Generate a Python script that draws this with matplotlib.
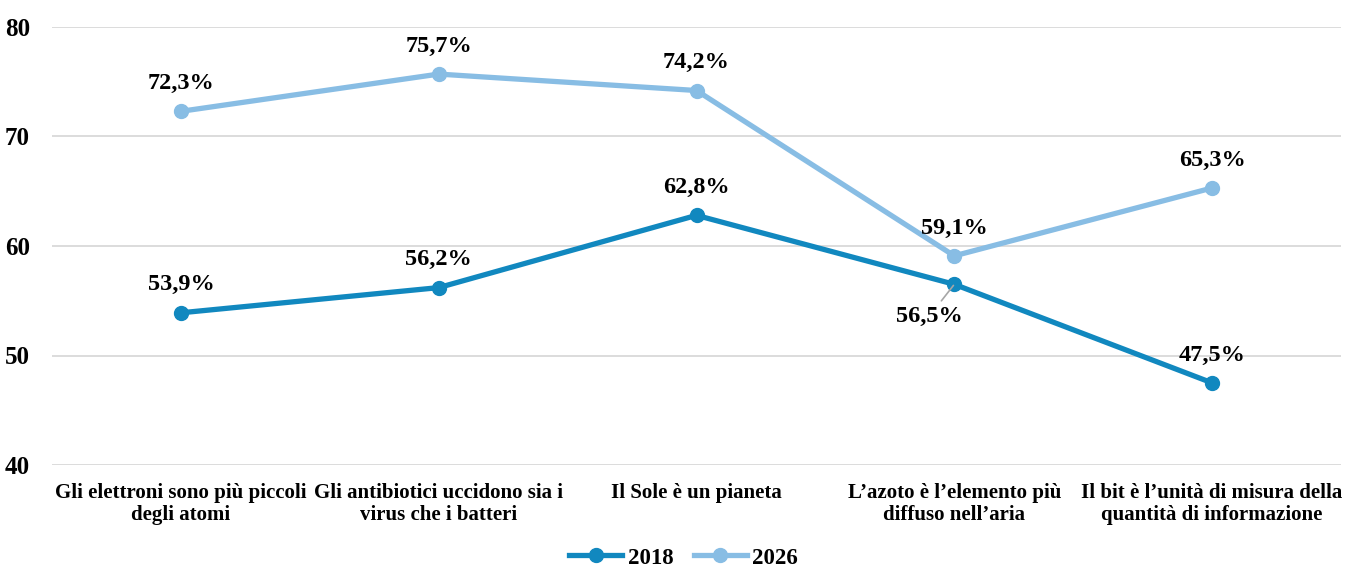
import matplotlib
matplotlib.use("Agg")
import matplotlib.pyplot as plt

categories = [
    "Gli elettroni sono più piccoli\ndegli atomi",
    "Gli antibiotici uccidono sia i\nvirus che i batteri",
    "Il Sole è un pianeta",
    "L’azoto è l’elemento più\ndiffuso nell’aria",
    "Il bit è l’unità di misura della\nquantità di informazione",
]
series_2018 = [53.9, 56.2, 62.8, 56.5, 47.5]
series_2026 = [72.3, 75.7, 74.2, 59.1, 65.3]
labels_2018 = ["53,9%", "56,2%", "62,8%", "56,5%", "47,5%"]
labels_2026 = ["72,3%", "75,7%", "74,2%", "59,1%", "65,3%"]
yticks = [40, 50, 60, 70, 80]

c18 = "#1188bf"
c26 = "#88bde4"

plt.rcParams['font.family'] = ['Liberation Serif', 'DejaVu Serif']
plt.rcParams['font.weight'] = 'bold'

fig = plt.figure(figsize=(13.54, 5.67), dpi=100)
ax = fig.add_axes([52/1354, 1 - 465/567, (1341-52)/1354, (465-27)/567])

x = list(range(len(categories)))
ax.plot(x, series_2018, color=c18, lw=3.8, marker='o', ms=10, label='2018', zorder=3)
ax.plot(x, series_2026, color=c26, lw=3.8, marker='o', ms=10, label='2026', zorder=3)

ax.set_xlim(-0.5, 4.5)
ax.set_ylim(40, 80)
ax.set_yticks(yticks)
ax.set_yticklabels([str(v) for v in yticks], fontsize=18, fontweight='bold')
ax.set_xticks(x)
ax.set_xticklabels(categories, fontsize=15, fontweight='bold', linespacing=1.12)
ax.tick_params(axis='both', length=0)
ax.tick_params(axis='y', pad=16)
ax.tick_params(axis='x', pad=13)
for s in ax.spines.values():
    s.set_visible(False)
ax.grid(axis='y', color='#d9d9d9', lw=1.3)
ax.set_axisbelow(True)

# labels
for i, (v, t) in enumerate(zip(series_2026, labels_2026)):
    ax.annotate(t, (i, v), xytext=(0, 12.5), textcoords='offset points',
                ha='center', va='bottom', fontsize=17.5, fontweight='bold')
for i, (v, t) in enumerate(zip(series_2018, labels_2018)):
    if i == 3:
        ax.annotate(t, (i, v), xytext=(-18, -23), textcoords='offset points',
                    ha='center', va='center', fontsize=17.5, fontweight='bold',
                    arrowprops=dict(arrowstyle='-', color='#a6a6a6', lw=1.2,
                                    shrinkA=2, shrinkB=1))
    else:
        ax.annotate(t, (i, v), xytext=(0, 12.5), textcoords='offset points',
                    ha='center', va='bottom', fontsize=17.5, fontweight='bold')

leg = fig.legend(loc='center', bbox_to_anchor=(0.505, 1 - 558/567), ncol=2,
                 frameon=False, fontsize=16.5, handlelength=2.3, columnspacing=0.9,
                 handletextpad=0.25)

fig.savefig("out.png", dpi=100)
